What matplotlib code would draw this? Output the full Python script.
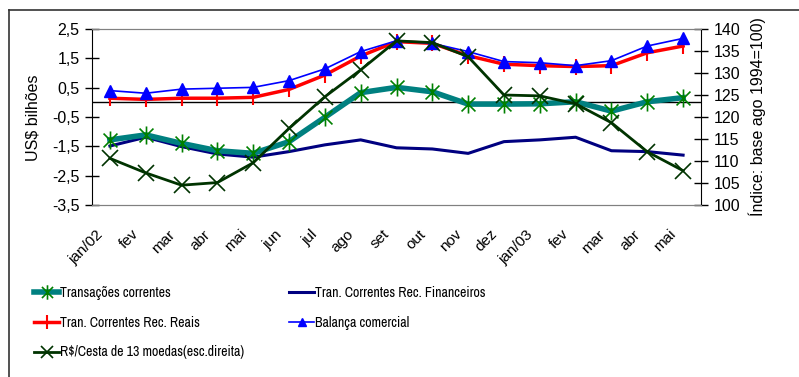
import matplotlib.pyplot as plt
import matplotlib.transforms as mtransforms
import numpy as np
from matplotlib import font_manager
from matplotlib.path import Path
from matplotlib.lines import Line2D

# --- data ---
months = ['jan/02', 'fev', 'mar', 'abr', 'mai', 'jun', 'jul', 'ago', 'set',
          'out', 'nov', 'dez', 'jan/03', 'fev', 'mar', 'abr', 'mai']

transacoes = [-1.28, -1.11, -1.40, -1.65, -1.74, -1.34, -0.51, 0.33, 0.51,
              0.36, -0.06, -0.06, -0.05, 0.02, -0.30, 0.02, 0.16]
rec_financeiros = [-1.49, -1.19, -1.51, -1.76, -1.87, -1.68, -1.45, -1.28, -1.55,
                   -1.59, -1.74, -1.34, -1.28, -1.19, -1.65, -1.68, -1.80]
rec_reais = [0.14, 0.10, 0.14, 0.14, 0.17, 0.44, 0.93, 1.58, 2.07,
             2.01, 1.59, 1.30, 1.25, 1.22, 1.25, 1.69, 1.92]
balanca = [0.40, 0.31, 0.45, 0.48, 0.51, 0.74, 1.14, 1.73, 2.10,
           2.01, 1.73, 1.39, 1.35, 1.25, 1.42, 1.92, 2.18]
cesta = [110.6, 107.3, 104.5, 105.1, 109.6, 117.4, 124.6, 130.7, 137.3,
         136.9, 133.7, 125.0, 124.8, 123.0, 118.7, 112.1, 107.8]

left_ticks = [2.5, 1.5, 0.5, -0.5, -1.5, -2.5, -3.5]
right_ticks = [100, 105, 110, 115, 120, 125, 130, 135, 140]

plt.rcParams['font.family'] = ['Liberation Sans', 'DejaVu Sans']

# pick a narrow face for the legend (Arial Narrow look-alike)
installed = set(f.name for f in font_manager.fontManager.ttflist)
narrow = 'Liberation Sans'
for cand in ['Liberation Sans Narrow', 'Arimo Narrow', 'Archivo Narrow',
             'PT Sans Narrow', 'Roboto Condensed', 'Asap Condensed']:
    if cand in installed:
        narrow = cand
        break

# Excel-style star marker: an X with a vertical bar
star = Path([(-1, -1), (1, 1), (-1, 1), (1, -1), (0, -1.3), (0, 1.3)],
            [Path.MOVETO, Path.LINETO, Path.MOVETO, Path.LINETO,
             Path.MOVETO, Path.LINETO])

fig = plt.figure(figsize=(7.99, 3.77), dpi=100)
ax = fig.add_axes([92 / 799, 1 - 205 / 377, (701 - 92) / 799, 176 / 377])
ax2 = ax.twinx()

x = np.arange(len(months))

ax.axhline(0, color='black', lw=1, zorder=1)
l1, = ax.plot(x, transacoes, color='#008080', lw=4, marker=star, ms=13,
              mec='#008000', mfc='none', mew=1.2, zorder=3)
l2, = ax.plot(x, rec_financeiros, color='#000080', lw=2.2, zorder=2)
l3, = ax.plot(x, rec_reais, color='#FF0000', lw=2.5, marker='|', ms=12,
              mec='#FF0000', mew=1.5, zorder=3)
l4, = ax.plot(x, balanca, color='#0000FF', lw=1.2, marker='^', ms=8,
              mec='#0000FF', mfc='#0000FF', zorder=4)
l5, = ax2.plot(x, cesta, color='#003300', lw=2, marker='x', ms=11,
               mec='#003300', mew=1.2, zorder=5)

ax.set_xlim(-0.5, len(months) - 0.5)
ax.set_ylim(-3.5, 2.5)
ax.set_yticks(left_ticks)
ax.set_yticklabels([f'{v:.1f}'.replace('.', ',') for v in left_ticks], fontsize=11.5)
ax2.set_ylim(100, 140)
ax2.set_yticks(right_ticks)
ax2.set_yticklabels([str(v) for v in right_ticks], fontsize=11.5)

ax.set_xticks(x)
ax.set_xticklabels(months, rotation=45, ha='right', rotation_mode='anchor', fontsize=11)
ax.tick_params(axis='x', length=0, pad=16)
shift = mtransforms.ScaledTranslation(-14 / 100, 0, fig.dpi_scale_trans)
for lab in ax.get_xticklabels():
    lab.set_transform(lab.get_transform() + shift)
ax.tick_params(axis='y', direction='inout', length=10, width=1, pad=4)
ax2.tick_params(axis='y', direction='inout', length=10, width=1, pad=4)

for a in (ax, ax2):
    a.spines['top'].set_color('#808080')
    a.spines['bottom'].set_color('#808080')
ax2.spines['left'].set_visible(False)
ax.spines['right'].set_visible(False)
ax.spines['left'].set_color('black')
ax2.spines['right'].set_color('black')

fig.text(33 / 799, 1 - 118 / 377, 'US$ bilhões', rotation=90, fontsize=11.5,
         ha='center', va='center')
fig.text(757 / 799, 1 - 117 / 377, 'Índice: base ago 1994=100)', rotation=90,
         fontsize=11.5, ha='center', va='center')

# legend in two columns placed like the original
leg_kw = dict(frameon=False, prop={'family': narrow, 'size': 10}, handlelength=1.8,
              handletextpad=0.1, labelspacing=1.13, borderpad=0, borderaxespad=0,
              loc='upper left', markerscale=0.8)
fig.legend([l1, l3, l5],
           ['Transações correntes', 'Tran. Correntes Rec. Reais',
            'R$/Cesta de 13 moedas(esc.direita)'],
           bbox_to_anchor=(34 / 799, 1 - 286 / 377), **leg_kw)
fig.legend([l2, l4], ['Tran. Correntes Rec. Financeiros', 'Balança comercial'],
           bbox_to_anchor=(289 / 799, 1 - 286 / 377), **leg_kw)

# outer chart frame (only top and left edges visible)
fig.add_artist(Line2D([9 / 799, 1], [1 - 10 / 377, 1 - 10 / 377],
                      color='#333333', lw=1.2, transform=fig.transFigure))
fig.add_artist(Line2D([9 / 799, 9 / 799], [0, 1 - 10 / 377],
                      color='#333333', lw=1.2, transform=fig.transFigure))

fig.savefig('out.png', dpi=100)
